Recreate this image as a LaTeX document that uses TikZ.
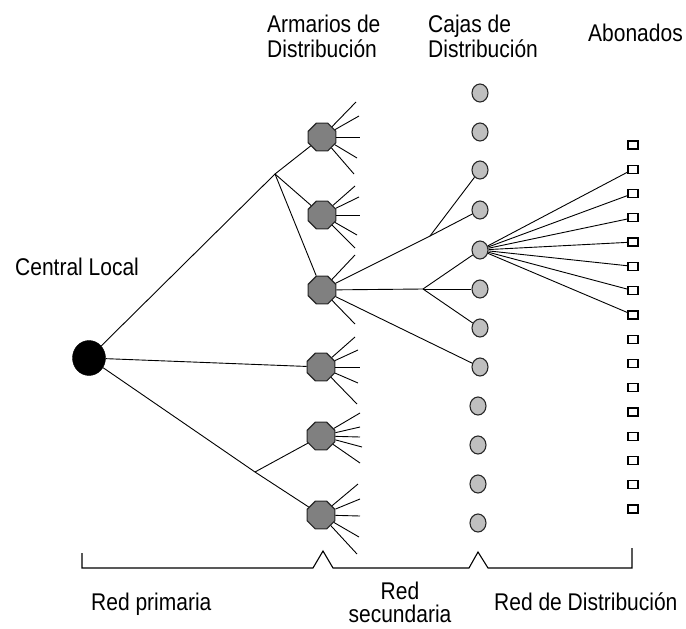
\documentclass[tikz,border=0pt]{standalone}
\usepackage{graphicx}
\usepackage{fontspec}
\setmainfont{Liberation Sans}
\usetikzlibrary{shapes.geometric}
\newcommand\stxt[1]{\scalebox{1}[1.15]{#1}}
\begin{document}
\begin{tikzpicture}[x=1pt,y=-1pt,
  wire/.style={line width=0.9pt, draw=black},
  central/.style={ellipse, minimum width=33pt, minimum height=35pt, inner sep=0pt, fill=black, draw=black},
  armario/.style={regular polygon, regular polygon sides=8, minimum size=30pt, inner sep=0pt, fill=gray, draw=black!85, line width=1.2pt},
  caja/.style={ellipse, minimum width=16pt, minimum height=18pt, inner sep=0pt, fill=black!25, draw=black!85, line width=1.1pt},
  abonado/.style={rectangle, minimum width=10pt, minimum height=8pt, inner sep=0pt, fill=white, draw=black, line width=1.3pt},
  lbl/.style={font=\fontsize{21pt}{25pt}\selectfont, inner sep=0pt}
]
\useasboundingbox (0,0) rectangle (686,629);

% nodes
\node[central] (c) at (89,358) {};
\node[armario] (a1) at (322,137) {};
\node[armario] (a2) at (322,215) {};
\node[armario] (a3) at (322,290) {};
\node[armario] (a4) at (321,367) {};
\node[armario] (a5) at (321,436) {};
\node[armario] (a6) at (321,515) {};

\foreach \i/\y in {1/93,2/132,3/170,4/210,5/250,6/289,7/328,8/367}
  \node[caja] (k\i) at (480,\y) {};
\foreach \i/\y in {9/406,10/445,11/484,12/523}
  \node[caja] (k\i) at (478,\y) {};

\foreach \i in {1,...,16}
  \node[abonado] (s\i) at (633,{145+(\i-1)*24.27}) {};

% junctions
\coordinate (j1) at (275,174);
\coordinate (j2) at (255,472);
\coordinate (j3) at (430,236);
\coordinate (j4) at (423,289);

% red primaria
\draw[wire] (c) -- (j1);
\draw[wire] (j1) -- (a1);
\draw[wire] (j1) -- (a2);
\draw[wire] (j1) -- (a3);
\draw[wire] (c) -- (a4);
\draw[wire] (c) -- (j2);
\draw[wire] (j2) -- (a5);
\draw[wire] (j2) -- (a6);

% fans of armarios
\foreach \dx/\dy in {34/-35,37/-21,38/0,35/21,32/37} \draw[wire] (a1) -- ++(\dx,\dy);
\foreach \dx/\dy in {33/-29,37/-18,38/0,35/20,33/33} \draw[wire] (a2) -- ++(\dx,\dy);
\foreach \dx/\dy in {33/-35,33/34} \draw[wire] (a3) -- ++(\dx,\dy);
\foreach \dx/\dy in {34/-30,37/-17,39/0,37/16,36/37} \draw[wire] (a4) -- ++(\dx,\dy);
\foreach \dx/\dy in {39/-23,39/-9,39/1,41/11,39/27} \draw[wire] (a5) -- ++(\dx,\dy);
\foreach \dx/\dy in {37/-31,39/-16,39/1,38/22,36/39} \draw[wire] (a6) -- ++(\dx,\dy);

% red secundaria
\draw[wire] (a3) -- (j3);
\draw[wire] (j3) -- (k3);
\draw[wire] (j3) -- (k4);
\draw[wire] (a3) -- (j4);
\draw[wire] (j4) -- (k5);
\draw[wire] (j4) -- (k6);
\draw[wire] (j4) -- (k7);
\draw[wire] (a3) -- (k8);

% red de distribucion
\foreach \i in {2,...,8} \draw[wire] (k5) -- (s\i);

% bracket
\draw[line width=1.1pt] (82,553) -- (82,568) -- (313,568) -- (323,551) -- (333,568)
  -- (469,568) -- (478,552) -- (488,568) -- (632,568) -- (632,548);

% labels
\node[lbl, anchor=base west] (tcl) at (15,275) {\stxt{Central Local}};
\node[lbl, anchor=base west] (ta1) at (267,32) {\stxt{Armarios de}};
\node[lbl, anchor=base west] (ta2) at (267,57) {\stxt{Distribución}};
\node[lbl, anchor=base west] (tc1) at (428,32) {\stxt{Cajas de}};
\node[lbl, anchor=base west] (tc2) at (428,57) {\stxt{Distribución}};
\node[lbl, anchor=base west] (tab) at (588,41) {\stxt{Abonados}};
\node[lbl, anchor=base west] (trp) at (91,610) {\stxt{Red primaria}};
\node[lbl, anchor=base] (trs1) at (400,599) {\stxt{Red}};
\node[lbl, anchor=base] (trs2) at (400,622) {\stxt{secundaria}};
\node[lbl, anchor=base west] (trd) at (494,610) {\stxt{Red de Distribución}};
\end{tikzpicture}
\end{document}
